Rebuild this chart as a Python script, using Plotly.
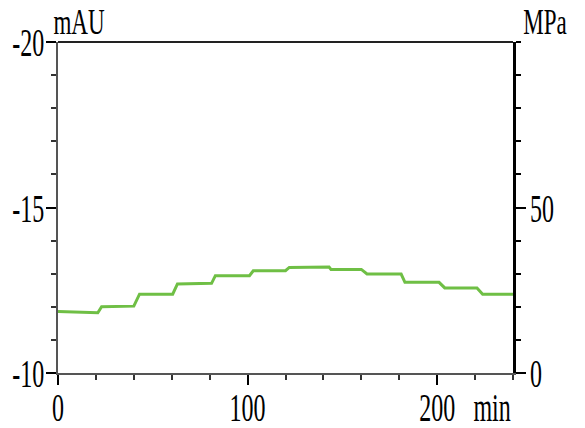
import plotly.graph_objects as go

# Chromatogram trace (time in min, absorbance in mAU)
time_min = [0, 21, 23, 40, 43, 60.5, 63, 81, 83, 101, 103, 120, 122, 143, 144,
            160, 163, 181, 183, 201, 204, 221, 224, 240]
abs_mau = [-11.86, -11.82, -12.00, -12.02, -12.38, -12.38, -12.69, -12.71, -12.94, -12.94,
           -13.09, -13.09, -13.19, -13.20, -13.13, -13.13, -12.99, -12.99, -12.74, -12.74,
           -12.57, -12.57, -12.38, -12.38]

x_range = [0, 240]
x_ticks = [0, 100, 200]
x_ticktext = ["0", "100", "200"]
mau_range = [-10, -20]
mau_ticks = [-20, -15, -10]
mau_ticktext = ["-20", "-15", "-10"]
mpa_range = [0, 100]
mpa_ticks = [0, 50]
mpa_ticktext = ["0", "50"]

FONT = "Liberation Serif, Times New Roman, serif"
FS = 40
FS_UNIT = 36

fig = go.Figure()
fig.add_trace(go.Scatter(x=time_min, y=abs_mau, mode="lines",
                         line=dict(color="#6fbf45", width=3),
                         hoverinfo="skip", showlegend=False))
# empty trace so that the pressure axis is drawn
fig.add_trace(go.Scatter(x=[None], y=[None], yaxis="y2", mode="lines",
                         hoverinfo="skip", showlegend=False))

fig.update_layout(
    width=585, height=428, autosize=False,
    margin=dict(l=58, r=72, t=42, b=55, autoexpand=False),
    paper_bgcolor="white", plot_bgcolor="white",
    font=dict(family=FONT, size=FS, color="black"),
    hovermode=False,
    xaxis=dict(range=x_range, tickmode="array", tickvals=x_ticks, ticktext=x_ticktext,
               showgrid=False, zeroline=False, automargin=False, ticklabelstandoff=-12,
               showline=True, linecolor="#555", linewidth=1.5,
               ticks="outside", ticklen=10, tickwidth=2, tickcolor="black",
               minor=dict(dtick=20, tick0=0, ticks="outside", ticklen=5, tickwidth=1.5, tickcolor="#333"),
               tickfont=dict(family=FONT, size=FS)),
    yaxis=dict(range=mau_range, tickmode="array", tickvals=mau_ticks, ticktext=mau_ticktext,
               showgrid=False, zeroline=False, automargin=False, ticklabelstandoff=-6,
               showline=True, linecolor="#555", linewidth=1.5,
               ticks="outside", ticklen=10, tickwidth=2, tickcolor="black",
               minor=dict(dtick=1, tick0=0, ticks="outside", ticklen=5, tickwidth=1.5, tickcolor="#333"),
               tickfont=dict(family=FONT, size=FS)),
    yaxis2=dict(range=mpa_range, overlaying="y", side="right",
                tickmode="array", tickvals=mpa_ticks, ticktext=mpa_ticktext,
                showgrid=False, zeroline=False, automargin=False, ticklabelstandoff=-4,
                showline=True, linecolor="black", linewidth=3,
                ticks="outside", ticklen=10, tickwidth=2, tickcolor="black",
                minor=dict(dtick=10, tick0=0, ticks="outside", ticklen=5, tickwidth=1.5, tickcolor="black"),
                tickfont=dict(family=FONT, size=FS)),
    shapes=[dict(type="line", xref="paper", yref="paper", x0=0, x1=1, y0=1, y1=1,
                 line=dict(color="#222", width=2))],
    annotations=[
        dict(text="mAU", xref="paper", yref="paper", x=0.0462, y=1.1269,
             xanchor="center", yanchor="top", showarrow=False, font=dict(family=FONT, size=FS_UNIT)),
        dict(text="MPa", xref="paper", yref="paper", x=1.0714, y=1.1269,
             xanchor="center", yanchor="top", showarrow=False, font=dict(family=FONT, size=FS_UNIT)),
        dict(text="min", xref="paper", yref="paper", x=0.954, y=-0.1057,
             xanchor="center", yanchor="middle", showarrow=False, font=dict(family=FONT, size=FS)),
    ],
)

post = """
var gd = document.getElementById('{plot_id}');
gd.querySelectorAll('svg text').forEach(function(t){
  var sx = (t.classList.contains('annotation-text') && parseFloat(t.style.fontSize) < 38) ? 0.64 : 0.6;
  var bb = t.getBBox();
  var anchor = t.getAttribute('text-anchor') || window.getComputedStyle(t).textAnchor || 'start';
  var cx = anchor === 'end' ? bb.x + bb.width : (anchor === 'middle' ? bb.x + bb.width / 2 : bb.x);
  var tr = t.getAttribute('transform') || '';
  t.setAttribute('transform', tr + ' translate(' + cx + ',0) scale(' + sx + ',1) translate(' + (-cx) + ',0)');
});
"""

fig.write_html("out.html", config={"displayModeBar": False, "responsive": False},
               post_script=post)
